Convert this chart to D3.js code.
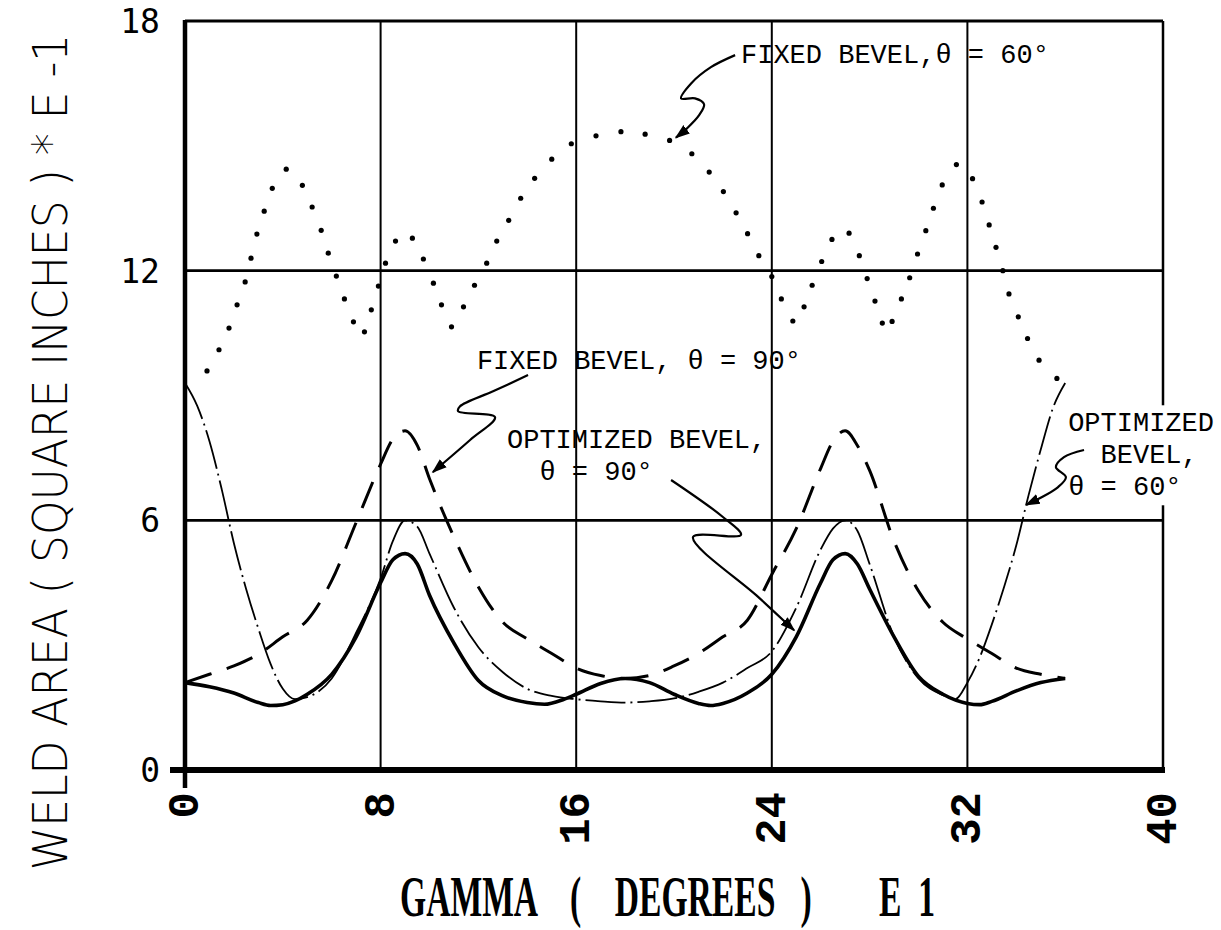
<!DOCTYPE html>
<html>
<head>
<meta charset="utf-8">
<script src="https://cdn.jsdelivr.net/npm/d3@7.9.0/dist/d3.min.js"></script>
<style>
  body { margin: 0; background: #fff; }
  text { fill: #000; }
</style>
</head>
<body>
<svg id="chart" width="1221" height="930"></svg>
<script>
// Chart data (gamma in degrees E 1, weld area in sq in E -1)
const xTicks = [0, 8, 16, 24, 32, 40];
const yTicks = [0, 6, 12, 18];

// Fixed bevel, theta = 60 deg (plotted as dots)
const fixed60 = [
  [0.90, 9.59], [1.39, 10.10], [1.80, 10.62], [2.13, 11.18], [2.46, 11.73], [2.70, 12.30],
  [2.94, 12.88], [3.24, 13.43], [3.57, 13.98], [4.14, 14.44], [4.80, 14.05], [5.20, 13.53],
  [5.57, 12.97], [5.86, 12.42], [6.19, 11.87], [6.52, 11.32], [6.89, 10.77], [7.34, 10.53],
  [7.62, 11.06], [7.91, 11.63], [8.20, 12.18], [8.61, 12.71], [9.30, 12.78], [9.75, 12.28],
  [10.16, 11.70], [10.49, 11.18], [10.90, 10.65], [11.39, 11.13], [11.84, 11.65], [12.34, 12.18],
  [12.75, 12.71], [13.24, 13.21], [13.73, 13.74], [14.30, 14.22], [15.00, 14.68], [15.80, 15.05],
  [16.81, 15.24], [17.83, 15.34], [18.82, 15.28], [19.82, 15.13], [20.73, 14.81], [21.44, 14.37],
  [22.02, 13.90], [22.54, 13.39], [23.01, 12.89], [23.47, 12.36], [24.00, 11.86], [24.39, 11.32],
  [24.86, 10.79], [25.32, 11.13], [25.65, 11.65], [26.04, 12.22], [26.46, 12.75], [27.16, 12.90],
  [27.58, 12.36], [27.90, 11.81], [28.22, 11.27], [28.52, 10.74], [28.92, 10.78], [29.30, 11.32],
  [29.64, 11.83], [29.96, 12.40], [30.30, 12.96], [30.61, 13.50], [30.97, 14.06], [31.55, 14.55],
  [32.21, 14.21], [32.60, 13.65], [32.89, 13.10], [33.17, 12.56], [33.45, 12.00], [33.70, 11.44],
  [34.08, 10.89], [34.46, 10.37], [34.93, 9.85], [35.66, 9.41]
];

// Fixed bevel, theta = 90 deg (dashed)
const fixed90 = [
  [0, 2.1], [1, 2.3], [2, 2.5], [3, 2.78], [4, 3.2], [5, 3.6], [6, 4.55], [7, 5.95], [8, 7.35],
  [8.5, 7.95], [9, 8.15], [9.5, 7.8], [10, 7.0], [11, 5.6], [12, 4.4], [13, 3.55], [14, 3.15],
  [15, 2.8], [16, 2.45], [17, 2.27], [18, 2.2], [19, 2.27], [20, 2.5], [21, 2.8], [22, 3.2],
  [23, 3.6], [24, 4.7], [25, 5.8], [26, 7.25], [26.5, 7.9], [27, 8.15], [27.5, 7.8], [28, 7.2],
  [29, 5.5], [30, 4.3], [31, 3.55], [32, 3.15], [33, 2.8], [34, 2.45], [35, 2.3], [36, 2.2]
];

// Optimized bevel, theta = 90 deg (heavy solid)
const optimized90 = [
  [0, 2.1], [1, 2.0], [2, 1.85], [3, 1.62], [3.5, 1.55], [4, 1.57], [4.5, 1.66], [5, 1.82],
  [6, 2.3], [7, 3.2], [8, 4.5], [8.5, 5.05], [9, 5.2], [9.5, 4.95], [10, 4.2], [11, 3.05],
  [12, 2.15], [13, 1.78], [14, 1.62], [14.7, 1.58], [15.5, 1.7], [16, 1.82], [17, 2.08],
  [18, 2.2], [19, 2.1], [20, 1.82], [21, 1.6], [21.5, 1.55], [22, 1.6], [23, 1.85], [24, 2.3],
  [25, 3.2], [26, 4.5], [26.5, 5.05], [27, 5.2], [27.5, 4.95], [28, 4.35], [29, 3.2],
  [30, 2.25], [31, 1.82], [32, 1.6], [32.5, 1.57], [33, 1.65], [34, 1.9], [35, 2.1], [36, 2.2]
];

// Optimized bevel, theta = 60 deg (dash-dot)
const optimized60 = [
  [0, 9.3], [0.5, 8.75], [1, 7.9], [1.5, 6.75], [2, 5.45], [2.5, 4.35], [3, 3.4], [3.5, 2.55],
  [4, 1.95], [4.5, 1.7], [5, 1.75], [6, 2.2], [7, 3.3], [8, 4.6], [8.5, 5.5], [9, 6.0],
  [9.5, 5.85], [10, 5.2], [11, 3.9], [12, 2.95], [13, 2.35], [14, 1.95], [15, 1.78], [16, 1.7],
  [17, 1.65], [18, 1.62], [19, 1.65], [20, 1.72], [21, 1.88], [22, 2.1], [23, 2.45], [24, 2.85],
  [25, 3.9], [26, 5.3], [26.5, 5.8], [27, 6.0], [27.5, 5.75], [28, 4.95], [29, 3.2], [30, 2.2],
  [31, 1.8], [31.5, 1.7], [32, 2.1], [32.5, 2.7], [33, 3.5], [33.5, 4.4], [34, 5.4], [34.5, 6.6],
  [35, 7.7], [35.5, 8.7], [36, 9.3]
];

// Annotation labels and their hand-drawn leader lines (data units)
const labels = [
  { lines: ['FIXED BEVEL,θ = 60°'], at: [22.74, 16.98], leader: [[22.5, 17.18], [21.51, 16.89], [20.7, 16.5], [20.29, 16.14], [20.86, 16.14], [21.23, 16.0], [21.02, 15.73], [20.53, 15.42], [20.08, 15.2]] },
  { lines: ['FIXED BEVEL, θ = 90°'], at: [11.94, 9.63], leader: [[14.03, 9.49], [12.6, 9.1], [11.25, 8.74], [11.17, 8.62], [12.68, 8.48], [11.66, 7.93], [10.14, 7.16]] },
  { lines: ['OPTIMIZED BEVEL,', '  θ = 90°'], at: [13.17, 7.73], leader: [[19.88, 6.97], [22.0, 6.08], [22.74, 5.65], [20.78, 5.6], [23.44, 4.16], [24.91, 3.36]] },
  { lines: ['OPTIMIZED', '  BEVEL,', 'θ = 60°'], at: [36.12, 8.14], leader: [[36.77, 7.69], [35.95, 7.52], [35.62, 7.28], [36.03, 7.04], [35.71, 6.8], [34.4, 6.37]], mask: true }
];

// Scales
const x = d3.scaleLinear().domain([0, 40]).range([185, 1163]);
const y = d3.scaleLinear().domain([0, 18]).range([770, 21]);

const svg = d3.select('#chart');

svg.append('defs').append('marker')
  .attr('id', 'arrow')
  .attr('viewBox', '0 0 10 10')
  .attr('refX', 9).attr('refY', 5)
  .attr('markerWidth', 15).attr('markerHeight', 15)
  .attr('markerUnits', 'userSpaceOnUse')
  .attr('orient', 'auto')
  .append('path')
  .attr('d', 'M0,1.5 L10,5 L0,8.5 Z')
  .attr('fill', '#000');

// Grid lines
svg.append('g')
  .selectAll('line')
  .data(xTicks.filter(d => d > 0 && d < 40))
  .join('line')
  .attr('x1', d => x(d)).attr('x2', d => x(d))
  .attr('y1', y(18)).attr('y2', y(0))
  .attr('stroke', '#000').attr('stroke-width', 2);

svg.append('g')
  .selectAll('line')
  .data(yTicks.filter(d => d > 0 && d < 18))
  .join('line')
  .attr('x1', x(0)).attr('x2', x(40))
  .attr('y1', d => y(d)).attr('y2', d => y(d))
  .attr('stroke', '#000').attr('stroke-width', 2.6);

// Frame
const frame = svg.append('g').attr('stroke', '#000');
frame.append('line').attr('x1', x(0)).attr('x2', x(40)).attr('y1', y(18)).attr('y2', y(18)).attr('stroke-width', 3);
frame.append('line').attr('x1', x(40)).attr('x2', x(40)).attr('y1', y(18)).attr('y2', y(0)).attr('stroke-width', 2.5);
frame.append('line').attr('x1', x(0)).attr('x2', x(0)).attr('y1', y(18) - 1).attr('y2', y(0) + 18).attr('stroke-width', 4.5);
frame.append('line').attr('x1', x(0) - 15).attr('x2', x(40) + 2).attr('y1', y(0)).attr('y2', y(0)).attr('stroke-width', 6);

// Tick labels
svg.append('g')
  .selectAll('text')
  .data(yTicks)
  .join('text')
  .attr('x', 160)
  .attr('y', d => y(d) + 12)
  .attr('text-anchor', 'end')
  .attr('font-family', 'DejaVu Sans Mono')
  .attr('font-size', 33)
  .text(d => d);

svg.append('g')
  .selectAll('text')
  .data(xTicks)
  .join('text')
  .attr('transform', d => `translate(${x(d) + 13},792) rotate(-90)`)
  .attr('text-anchor', 'end')
  .attr('font-family', 'Liberation Mono')
  .attr('font-weight', 'bold')
  .attr('font-size', 44)
  .text(d => d);

// Axis titles
svg.append('text')
  .attr('transform', 'translate(67,452) rotate(-90) scale(1,1.08)')
  .attr('text-anchor', 'middle')
  .attr('font-family', 'DejaVu Sans')
  .attr('font-weight', 300)
  .attr('font-size', 44)
  .style('white-space', 'pre')
  .text('WELD AREA ( SQUARE INCHES ) * E -1');

// condensed serif title: small font stretched vertically
svg.append('text')
  .attr('transform', 'translate(400,916) scale(1,1.7)')
  .attr('font-family', 'Liberation Serif')
  .attr('font-weight', 'bold')
  .attr('font-size', 34)
  .attr('textLength', 535)
  .attr('lengthAdjust', 'spacingAndGlyphs')
  .style('white-space', 'pre')
  .text('GAMMA    (    DEGREES   )        E  1');

// Curves
const line = d3.line()
  .x(d => x(d[0]))
  .y(d => y(d[1]))
  .curve(d3.curveMonotoneX);

const curves = svg.append('g').attr('fill', 'none').attr('stroke', '#000');

curves.append('path')
  .datum(optimized60)
  .attr('d', line)
  .attr('stroke-width', 1.8)
  .attr('stroke-dasharray', '40,5,2,5');

curves.append('path')
  .datum(fixed90)
  .attr('d', line)
  .attr('stroke-width', 3)
  .attr('stroke-dasharray', '28,16');

curves.append('path')
  .datum(optimized90)
  .attr('d', line)
  .attr('stroke-width', 3.6);

svg.append('g')
  .selectAll('circle')
  .data(fixed60)
  .join('circle')
  .attr('cx', d => x(d[0]))
  .attr('cy', d => y(d[1]))
  .attr('r', 2.6)
  .attr('fill', '#000');

// Annotations
const leader = d3.line()
  .x(d => x(d[0]))
  .y(d => y(d[1]))
  .curve(d3.curveCatmullRom.alpha(0.5));

labels.forEach(lab => {
  const g = svg.append('g');
  const bg = g.append('rect').attr('fill', '#fff');
  const t = g.append('text')
    .attr('x', x(lab.at[0]))
    .attr('y', y(lab.at[1]))
    .attr('font-family', 'Liberation Mono')
    .attr('font-size', 27)
    .style('white-space', 'pre');
  lab.lines.forEach((s, i) => {
    t.append('tspan')
      .attr('x', x(lab.at[0]))
      .attr('dy', i === 0 ? 0 : 32)
      .text(s);
  });
  if (lab.mask) {
    const b = t.node().getBBox();
    bg.attr('x', b.x - 2).attr('y', b.y - 4).attr('width', b.width + 4).attr('height', b.height + 6);
  } else {
    bg.remove();
  }
  svg.append('path')
    .datum(lab.leader)
    .attr('d', leader)
    .attr('fill', 'none')
    .attr('stroke', '#000')
    .attr('stroke-width', 2.2)
    .attr('marker-end', 'url(#arrow)');
});
</script>
</body>
</html>
